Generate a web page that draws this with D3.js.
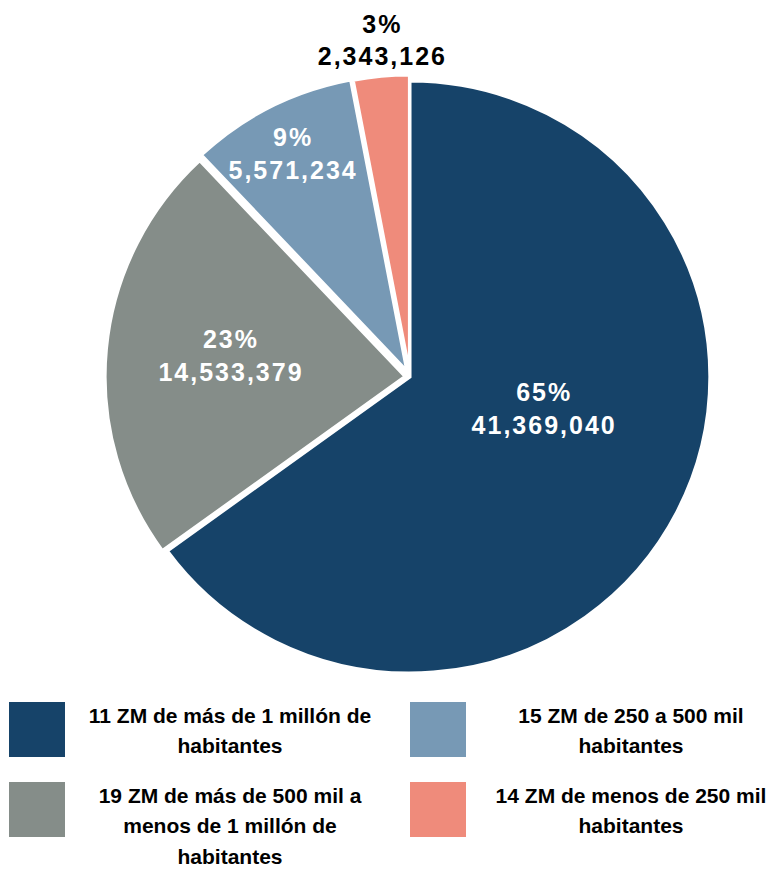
<!DOCTYPE html>
<html>
<head>
<meta charset="utf-8">
<script src="https://cdn.jsdelivr.net/npm/d3@7/dist/d3.min.js"></script>
<style>
  html, body { margin: 0; padding: 0; background: #ffffff; }
  svg { display: block; }
</style>
</head>
<body>
<svg id="chart" width="773" height="869"></svg>
<script>
// Zonas metropolitanas por tamaño de población
const categories = [
  "11 ZM de más de 1 millón de habitantes",
  "19 ZM de más de 500 mil a menos de 1 millón de habitantes",
  "15 ZM de 250 a 500 mil habitantes",
  "14 ZM de menos de 250 mil habitantes"
];
const percentLabels = ["65%", "23%", "9%", "3%"];
const shares = [65, 23, 9, 3];
const population = [41369040, 14533379, 5571234, 2343126];

const colors = ["#164369", "#858d89", "#7799b5", "#ef8b7b"];

// layout
const W = 773, H = 869;
const cx = 410, cy = 377, R = 296, stretchX = 1.013;
const explode = [0, 5, 7, 6];
// label placement: radius and angular nudge (degrees) from the slice middle
const labelRadius = [135, 179, 252, 338];
const labelNudge = [-13.8, 1.5, -0.5, 0.6];
const labelFill = ["#ffffff", "#ffffff", "#ffffff", "#000000"];

const svg = d3.select("#chart");
svg.append("rect").attr("width", W).attr("height", H).attr("fill", "#ffffff");

const pie = d3.pie().sort(null).value(d => d.share);
const rows = categories.map((c, i) => ({
  name: c, share: shares[i], pop: population[i], pct: percentLabels[i], i
}));
const arcs = pie(rows);
const arc = d3.arc().innerRadius(0).outerRadius(R);

const g = svg.append("g")
  .attr("transform", `translate(${cx},${cy}) scale(${stretchX},1)`);

g.selectAll("path")
  .data(arcs)
  .join("path")
  .attr("d", arc)
  .attr("fill", d => colors[d.data.i])
  .attr("stroke", "#ffffff")
  .attr("stroke-width", 3)
  .attr("stroke-linejoin", "miter")
  .attr("transform", d => {
    const a = (d.startAngle + d.endAngle) / 2;
    const k = explode[d.data.i];
    return `translate(${Math.sin(a) * k},${-Math.cos(a) * k})`;
  });

// data labels
const fmt = d3.format(",");
const labels = svg.append("g")
  .selectAll("g")
  .data(arcs)
  .join("g")
  .attr("transform", d => {
    const a = (d.startAngle + d.endAngle) / 2 + labelNudge[d.data.i] * Math.PI / 180;
    const r = labelRadius[d.data.i];
    return `translate(${cx + Math.sin(a) * r * stretchX},${cy - Math.cos(a) * r})`;
  })
  .attr("font-family", "'Liberation Sans', Arial, sans-serif")
  .attr("font-weight", "bold")
  .attr("font-size", 25)
  .attr("letter-spacing", "2px")
  .attr("text-anchor", "middle")
  .attr("fill", d => labelFill[d.data.i]);

labels.append("text")
  .attr("x", 1)
  .attr("y", -7)
  .text(d => d.data.pct);
labels.append("text")
  .attr("x", 1)
  .attr("y", d => d.data.i === 3 ? 25 : 26)
  .text(d => fmt(d.data.pop));

// legend: two columns, filled column by column
const legendCols = [9, 410];
const legendRows = [702, 782];
const textCenters = [230, 631];
const maxTextWidth = 295;
const lineH = 30.5;

const legend = svg.append("g")
  .attr("font-family", "'Liberation Sans', Arial, sans-serif")
  .attr("font-weight", "bold")
  .attr("font-size", 21)
  .attr("fill", "#000000");

rows.forEach((d, i) => {
  const col = Math.floor(i / 2), row = i % 2;
  const x0 = legendCols[col], y0 = legendRows[row];
  legend.append("rect")
    .attr("x", x0).attr("y", y0)
    .attr("width", 56).attr("height", 55)
    .attr("fill", colors[i]);

  const text = legend.append("text")
    .attr("text-anchor", "middle");
  const words = d.name.split(" ");
  let line = [];
  let lineNo = 0;
  let tspan = text.append("tspan")
    .attr("x", textCenters[col]).attr("y", y0 + 20.5);
  words.forEach(w => {
    line.push(w);
    tspan.text(line.join(" "));
    if (tspan.node().getComputedTextLength() > maxTextWidth && line.length > 1) {
      line.pop();
      tspan.text(line.join(" "));
      line = [w];
      lineNo++;
      tspan = text.append("tspan")
        .attr("x", textCenters[col])
        .attr("y", y0 + 20.5 + lineNo * lineH)
        .text(w);
    }
  });
});
</script>
</body>
</html>
